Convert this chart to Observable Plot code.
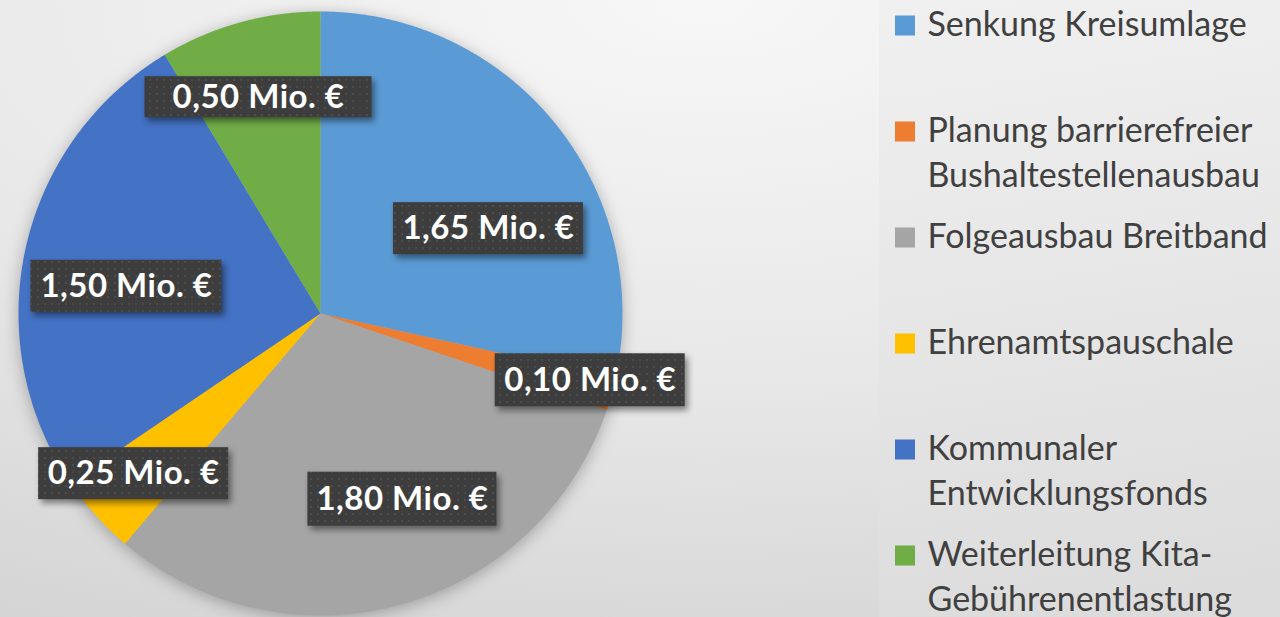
<!DOCTYPE html>
<html>
<head>
<meta charset="utf-8">
<script src="https://cdn.jsdelivr.net/npm/d3@7"></script>
<script src="https://cdn.jsdelivr.net/npm/@observablehq/plot@0.6"></script>
<style>
  html, body { margin: 0; padding: 0; }
  body {
    width: 1280px; height: 617px; overflow: hidden; position: relative;
    background: radial-gradient(ellipse 120% 110% at 55% 0%, #f7f7f7 0%, #e8e8e8 55%, #d5d5d5 100%);
  }
  #panel {
    position: absolute; left: 879px; top: 0; width: 401px; height: 617px;
    background: linear-gradient(172deg, #f0f0f0 0%, #e6e6e6 50%, #dbdbdb 100%);
  }
  #chart { position: absolute; left: 0; top: 0; }
</style>
</head>
<body>
<div id="panel"></div>
<div id="chart"></div>
<script>
// ---- data ----
const categories = [
  "Senkung Kreisumlage",
  "Planung barrierefreier\nBushaltestellenausbau",
  "Folgeausbau Breitband",
  "Ehrenamtspauschale",
  "Kommunaler\nEntwicklungsfonds",
  "Weiterleitung Kita-\nGebührenentlastung"
];
const values = [1.65, 0.10, 1.80, 0.25, 1.50, 0.50];
const valueUnit = " Mio. €";
const colors = ["#5B9BD5", "#ED7D31", "#A5A5A5", "#FFC000", "#4472C4", "#70AD47"];

// ---- layout ----
const W = 1280, H = 617;
const CX = 320, CY = 313, R = 302;
const px2x = px => (px - CX) / R;
const py2y = py => (CY - py) / R;
// label placement (angle clockwise from 12 o'clock in degrees, radius fraction), box size in px
const labelPlacement = [
  {angle: 63.2, r: 0.623, bw: 190, bh: 52},
  {angle: 103.9, r: 0.92, bw: 190, bh: 53},
  {angle: 156.2, r: 0.672, bw: 189, bh: 54},
  {angle: 229.4, r: 0.815, bw: 190, bh: 52},
  {angle: 278.0, r: 0.649, bw: 191, bh: 52},
  {angle: 344.0, r: 0.745, bw: 227, bh: 41}
];
const legendX = 904.5, legendTextX = 927, legendTop = 25, legendStep = 106, legendLine = 45;

// ---- derived geometry ----
const arcs = d3.pie().sort(null).value(d => d)(values);
const slicePts = [];
arcs.forEach((a, i) => {
  const cat = categories[i];
  slicePts.push({cat, x: 0, y: 0});
  const n = Math.max(2, Math.ceil((a.endAngle - a.startAngle) / (Math.PI / 720)));
  for (let k = 0; k <= n; k++) {
    const t = a.startAngle + (a.endAngle - a.startAngle) * k / n;
    slicePts.push({cat, x: Math.sin(t), y: Math.cos(t)});
  }
  slicePts.push({cat, x: 0, y: 0});
});

const fmt = v => v.toFixed(2).replace(".", ",") + valueUnit;
const labels = values.map((v, i) => {
  const p = labelPlacement[i];
  const t = p.angle * Math.PI / 180;
  const x = p.r * Math.sin(t), y = p.r * Math.cos(t);
  return {
    text: fmt(v), x, y,
    x1: x - p.bw / 2 / R, x2: x + p.bw / 2 / R,
    y1: y - p.bh / 2 / R, y2: y + p.bh / 2 / R
  };
});

const legendSquares = categories.map((c, i) => ({cat: c, x: px2x(legendX), y: py2y(legendTop + i * legendStep)}));
const legendRows = [];
categories.forEach((c, i) => {
  c.split("\n").forEach((line, j) => {
    legendRows.push({text: line, x: px2x(legendTextX), y: py2y(legendTop + i * legendStep + j * legendLine)});
  });
});

const chart = Plot.plot({
  width: W, height: H,
  marginLeft: CX - R, marginRight: W - (CX + R),
  marginTop: CY - R, marginBottom: H - (CY + R),
  style: {background: "transparent", overflow: "visible"},
  x: {domain: [-1, 1], axis: null},
  y: {domain: [-1, 1], axis: null},
  color: {domain: categories, range: colors},
  marks: [
    Plot.line(slicePts, {x: "x", y: "y", z: "cat", fill: "cat", stroke: null, curve: "linear"}),
    Plot.rect(labels, {x1: "x1", x2: "x2", y1: "y1", y2: "y2", fill: "#3d3d3d"}),
    Plot.text(labels, {x: "x", y: "y", text: "text", fill: "white", fontSize: 33, fontWeight: "bold", fontFamily: "Lato"}),
    Plot.dot(legendSquares, {x: "x", y: "y", fill: "cat", symbol: "square", r: 11.3, stroke: null}),
    Plot.text(legendRows, {x: "x", y: "y", text: "text", textAnchor: "start", fill: "#404040", fontSize: 34, fontFamily: "Lato"})
  ]
});

// styling effects: pie shadow, patterned label boxes with drop shadows
const svg = d3.select(chart);
const defs = svg.insert("defs", ":first-child");
const pat = defs.append("pattern").attr("id", "dots").attr("patternUnits", "userSpaceOnUse")
  .attr("width", 7).attr("height", 7);
pat.append("rect").attr("width", 7).attr("height", 7).attr("fill", "#3d3d3d");
pat.append("rect").attr("x", 2).attr("y", 2).attr("width", 2).attr("height", 2).attr("fill", "#4c4c4c");
svg.select('g[aria-label="line"]').style("filter", "drop-shadow(0px 3px 8px rgba(0,0,0,0.28))");
svg.selectAll('g[aria-label="rect"] rect').attr("fill", "url(#dots)")
  .style("filter", "drop-shadow(3px 4px 3px rgba(0,0,0,0.45))");
svg.selectAll('g[aria-label="text"]').filter((d, i) => i === 0).selectAll("text").style("letter-spacing", "0.5px");

document.getElementById("chart").appendChild(chart);
</script>
</body>
</html>
